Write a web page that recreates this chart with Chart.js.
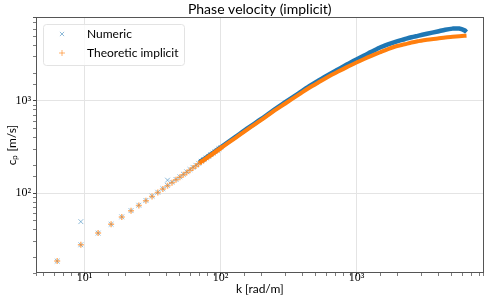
<!DOCTYPE html>
<html>
<head>
<meta charset="utf-8">
<script src="https://cdn.jsdelivr.net/npm/chart.js@4/dist/chart.umd.min.js"></script>
<style>
  html, body { margin: 0; padding: 0; background: #fff; }
  #wrap { width: 489px; height: 305px; }
</style>
</head>
<body>
<div id="wrap"><canvas id="myChart" width="489" height="305"></canvas></div>
<script>
// single markers at small k, a dense band above ~k=70
const kNumLow = [6.3, 9.4, 9.4, 12.6, 15.7, 18.8, 22.0, 25.1, 28.3, 31.4, 34.6, 37.7, 40.8, 40.8, 44.0, 47.1, 50.3, 53.4, 56.5, 59.7, 62.8, 66.0, 69.1, 72.3, 75.4, 78.5, 81.7, 84.8, 88.0, 91.1, 94.2, 97.4, 100.5]
const cNumLow = [18.3, 49, 27.5, 36.8, 45.9, 55.2, 64.5, 73.8, 83.2, 92.5, 102, 111.5, 138, 121, 131, 140.5, 150, 160, 170, 180, 190, 200, 210, 221, 230, 240, 250, 261, 271, 281, 291, 302, 312]
const kTheoLow = [6.3, 9.4, 12.6, 15.7, 18.8, 22.0, 25.1, 28.3, 31.4, 34.6, 37.7, 40.8, 44.0, 47.1, 50.3, 53.4, 56.5, 59.7, 62.8, 66.0, 69.1, 72.3, 75.4, 78.5, 81.7, 84.8, 88.0, 91.1, 94.2, 97.4, 100.5]
const cTheoLow = [18.3, 27.5, 36.8, 45.9, 55.0, 64.2, 73.4, 82.7, 92.0, 101.3, 110.6, 120, 129.5, 139, 148.5, 158, 167.5, 177, 187, 197, 206.5, 216.5, 227, 237, 247, 257, 267, 277, 287, 297, 307]

const kBand = [70, 85, 100, 130, 161, 200, 238, 300, 374, 450, 524, 620, 733, 850, 1000, 1140, 1288, 1480, 1706, 1960, 2260, 2540, 2825, 3300, 3960, 4500, 5094, 5700, 6237, 6450]
const cNumBand = [216, 263, 312, 410, 512, 636, 765, 965, 1200, 1440, 1650, 1910, 2190, 2470, 2800, 3090, 3400, 3760, 4080, 4380, 4650, 4880, 5060, 5330, 5650, 5900, 6060, 6080, 5800, 5550]
const cTheoBand = [212, 258, 305, 400, 500, 620, 745, 935, 1160, 1385, 1580, 1820, 2075, 2320, 2600, 2840, 3070, 3340, 3640, 3900, 4100, 4280, 4420, 4600, 4740, 4860, 4940, 5010, 5060, 5075]

const labels = ["Numeric", "Theoretic implicit"]
const titleText = "Phase velocity (implicit)"
const xTitle = "k [rad/m]"
const yTitle = "cₚ [m/s]"

const blue = "#1f77b4"
const orange = "#ff7f0e"
const sup = {0: "⁰", 1: "¹", 2: "²", 3: "³", 4: "⁴"}

const pts = (xs, ys) => xs.map((x, i) => ({x: x, y: ys[i]}))
const isPow10 = v => Math.abs(Math.log10(v) - Math.round(Math.log10(v))) < 1e-9

const frame = {
  id: "frame",
  afterDraw(chart) {
    const {ctx, chartArea: a} = chart
    ctx.save()
    ctx.strokeStyle = "#555"
    ctx.lineWidth = 1
    ctx.strokeRect(Math.round(a.left) + 0.5, Math.round(a.top) + 0.5, Math.round(a.right - a.left) - 1, Math.round(a.bottom - a.top) - 1)

    // title
    ctx.fillStyle = "#000"
    ctx.font = "14px Lato"
    ctx.textAlign = "center"
    ctx.textBaseline = "middle"
    ctx.fillText(titleText, (a.left + a.right) / 2, 9)

    // legend
    const bx = 43.5, by = 24.5, bw = 141, bh = 41
    ctx.beginPath()
    ctx.roundRect(bx, by, bw, bh, 3)
    ctx.fillStyle = "rgba(255,255,255,0.8)"
    ctx.fill()
    ctx.strokeStyle = "#e3e3e3"
    ctx.stroke()
    const styles = [["crossRot", "rgba(31,119,180,0.5)"], ["cross", "rgba(255,127,14,0.6)"]]
    labels.forEach((t, i) => {
      const y = 34 + i * 19
      ctx.strokeStyle = styles[i][1]
      ctx.lineWidth = 1
      Chart.helpers.drawPoint(ctx, {pointStyle: styles[i][0], radius: 3, borderWidth: 1}, 62, y)
      ctx.fillStyle = "#000"
      ctx.font = "12px Lato"
      ctx.textAlign = "left"
      ctx.fillText(t, 87, y)
    })
    ctx.restore()
  }
}

const axis = (min, max, title, pad) => ({
  type: "logarithmic",
  min: min,
  max: max,
  border: {display: false},
  grid: {
    color: c => c.tick && isPow10(c.tick.value) ? "#e4e4e4" : "rgba(0,0,0,0)",
    tickColor: "#444",
    tickLength: 3,
    tickWidth: c => c.tick && isPow10(c.tick.value) ? 1 : 0.7
  },
  ticks: {
    autoSkip: false,
    maxRotation: 0,
    padding: -5,
    color: "#000",
    font: {family: "'Liberation Serif'", size: 12},
    callback: v => isPow10(v) ? "10" + sup[Math.round(Math.log10(v))] : ""
  },
  title: {display: true, text: title, color: "#000", font: {family: "Lato", size: 12}, padding: pad}
})

const yAxis = axis(13.6, 8100, yTitle, {top: 5, bottom: 0})
yAxis.ticks = Object.assign({}, yAxis.ticks, {padding: 2})

new Chart(document.getElementById("myChart"), {
  type: "scatter",
  data: {
    datasets: [
      {label: labels[1], data: pts(kTheoLow, cTheoLow), order: 0, pointStyle: "cross", pointRadius: 3, borderWidth: 1.5,
       borderColor: "rgba(255,127,14,0.6)", backgroundColor: "rgba(255,127,14,0.6)"},
      {label: labels[1] + " band", data: pts(kBand, cTheoBand), order: 1, showLine: true, pointRadius: 0, borderWidth: 4,
       borderColor: orange, tension: 0.3},
      {label: labels[0], data: pts(kNumLow, cNumLow), order: 2, pointStyle: "crossRot", pointRadius: 3.4, borderWidth: 1,
       borderColor: "rgba(31,119,180,0.5)", backgroundColor: "rgba(31,119,180,0.5)"},
      {label: labels[0] + " band", data: pts(kBand, cNumBand), order: 3, showLine: true, pointRadius: 0, borderWidth: 4.5,
       borderColor: blue, tension: 0.3}
    ]
  },
  options: {
    responsive: false,
    animation: false,
    layout: {padding: {top: 17, right: 3, left: 0, bottom: 0}},
    plugins: {
      legend: {display: false},
      tooltip: {enabled: false}
    },
    scales: {
      x: Object.assign(axis(4.4, 8600, xTitle, {top: 0, bottom: 9}), {
        afterFit: s => { s.height = 32 }
      }),
      y: Object.assign(yAxis, {
        afterFit: s => { s.width = 36 }
      })
    }
  },
  plugins: [frame]
})
</script>
</body>
</html>
